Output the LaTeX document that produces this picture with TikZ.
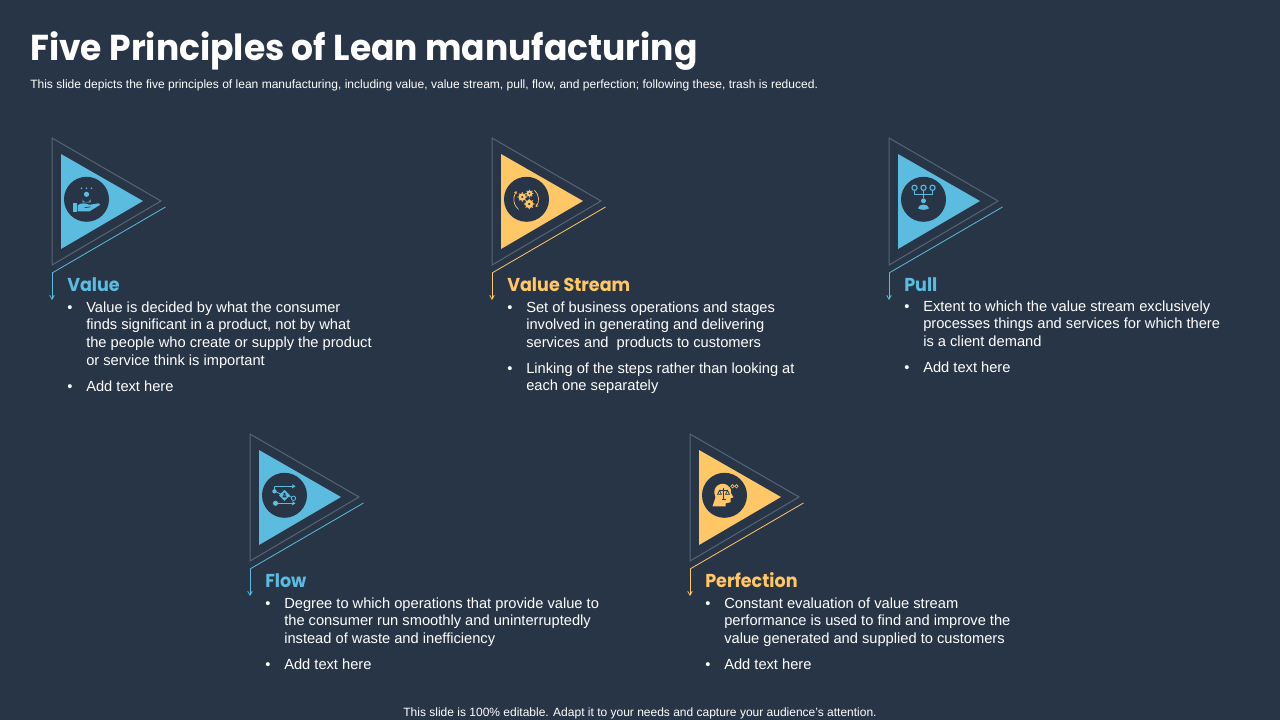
\documentclass[tikz,border=0pt]{standalone}
\usepackage{fontspec}
\usetikzlibrary{arrows.meta}
\setmainfont{Liberation Sans}
\newfontfamily\headfont{Poppins}
\definecolor{bg}{HTML}{283546}
\definecolor{bluec}{HTML}{5BBCE0}
\definecolor{yelc}{HTML}{FFC766}
\definecolor{edgec}{HTML}{566476}
\tikzset{
  bodytext/.style={anchor=north west,inner sep=0pt,align=left,text=white,font=\fontsize{11}{13.2}\selectfont},
  dotmark/.style={anchor=base west,inner sep=0pt,text=white,font=\fontsize{11}{13.2}\selectfont},
  headtext/.style={anchor=base west,inner sep=0pt,font=\headfont\bfseries\fontsize{14}{16}\selectfont},
  outertri/.style={draw=edgec,line width=0.75pt},
  iconcircle/.style={circle,fill=bg,draw=none,minimum size=33.75pt,inner sep=0pt},
}
% #1 name, #2 shift x, #3 shift y, #4 colour, #5 heading, #6 icon
\newcommand{\principle}[6]{%
  \begin{scope}[shift={(#2,#3)}]
    \draw[outertri] (52,138) -- (161,201) -- (52,265) -- cycle;
    \fill[#4] (61,154) -- (143,201) -- (61,249) -- cycle;
    \node[iconcircle] (#1icon) at (86.5,199.3) {};
    \begin{scope}[shift={(86.5,199.3)}]#6\end{scope}
    \coordinate (#1a) at (165.5,207);
    \coordinate (#1b) at (52,273);
    \coordinate (#1c) at (52,300);
    \draw[#4,line width=0.6pt] (#1a) -- (#1b);
    \draw[#4,line width=0.6pt,-{Straight Barb[length=3pt,width=3.5pt]}] (#1b) -- (#1c);
    \node[headtext,text=#4] (#1head) at (67,291) {\scalebox{0.94}[1]{#5}};
  \end{scope}}
% #1 name, #2 bullet x, #3 baseline y, #4 text
\newcommand{\bul}[4]{%
  \node[dotmark] (#1dot) at (#2,#3) {•};
  \node[bodytext] (#1) at ({#2+19},{#3-12.3}) {\strut #4};}
\newcommand{\iconvalue}{%
  \foreach \i in {-5,0,5}{\fill[bluec] (\i,-11) circle (0.9);}
  \fill[bluec] (0,-5) circle (2.6);
  \fill[bluec] (-4,3) -- (-4,0) arc (180:0:4 and 3) -- (4,3) -- cycle;
  \fill[bluec] (-14,4) rectangle (-10,12.7);
  \fill[bluec] (-9,6) .. controls (-5,3) and (-1,4) .. (3,5.5) -- (12,4) -- (13.7,5.5) -- (3,12) -- (-9,12) -- cycle;
  \draw[bg,line width=0.5pt] (-2,8.5) -- (4,7.5);}
\newcommand{\gearicon}[3]{%
  \foreach \a in {0,45,...,315}{\fill[yelc] (#1,#2) ++(\a:#3+0.4) circle (0.7);}
  \fill[yelc] (#1,#2) circle (#3);
  \fill[bg] (#1,#2) circle (#3*0.3);}
\newcommand{\icongears}{%
  \gearicon{-4.3}{-2.3}{3.8}\gearicon{3}{-5.7}{2.9}\gearicon{2.7}{4.7}{4.2}
  \draw[yelc,line width=0.5pt,->,>={Straight Barb[length=1.5pt,width=2pt]}] (8,-9) arc (-48:40:12);
  \draw[yelc,line width=0.5pt,->,>={Straight Barb[length=1.5pt,width=2pt]}] (-8,10) arc (129:220:12.7);}
\newcommand{\iconpull}{%
  \foreach \i in {-9,0,9}{\draw[bluec,line width=0.8pt] (\i,-11.5) circle (2.6);}
  \draw[bluec,line width=0.6pt] (-9,-8.9) -- (-9,-4.5) -- (9,-4.5) -- (9,-8.9) (0,-8.9) -- (0,-1);
  \fill[bluec] (0,1.5) circle (2.5);
  \fill[bluec] (-5.5,9) .. controls (-5,4) and (5,4) .. (5.5,9) .. controls (3,11) and (-3,11) .. (-5.5,9) -- cycle;}
\newcommand{\iconflow}{%
  \tikzset{>={Straight Barb[length=2pt,width=2.5pt]}}
  \draw[bluec,line width=0.6pt,->] (-10,-9) -- (11,-9);
  \draw[bluec,line width=0.6pt,->] (-8,8) -- (11,8);
  \draw[bluec,line width=0.6pt] (-10,-9) -- (-10,-4) -- (-3,-1) (3,1) -- (9,2) -- (9,5);
  \fill[bluec] (-10,-4) circle (2.2);
  \draw[bluec,line width=0.6pt,fill=bg] (9,3) circle (2.2);
  \fill[bluec] (-9,8) circle (2.6);
  \fill[bluec] (0,-5.5) -- (5.5,0) -- (0,5.5) -- (-5.5,0) -- cycle;
  \fill[bg] (0,-1.3) circle (1.3);
  \fill[bg] (-2,2) -- (2,2) -- (1.5,0) -- (-1.5,0) -- cycle;}
\newcommand{\iconperfection}{%
  \fill[yelc] (-12,11) -- (-9,2) .. controls (-14,-10) and (-2,-14) .. (3,-10)
     .. controls (7,-7) and (7,-4) .. (6.5,-2) -- (9,2) -- (6,3) -- (6,7) -- (1,8) -- (1,11) -- cycle;
  \draw[bg,line width=0.6pt] (-1,-7) -- (-1,4) (-5,-5) -- (3,-5) (-3,4.5) -- (1,4.5);
  \draw[bg,line width=0.5pt] (-5,-5) -- (-7,-1) -- (-3,-1) -- cycle (3,-5) -- (1,-1) -- (5,-1) -- cycle;
  \draw[yelc,line width=0.5pt] (8,-9) circle (1.7) (12,-9) circle (1.7);}
\begin{document}
\begin{tikzpicture}[x=0.75pt,y=-0.75pt]
\useasboundingbox (0,0) rectangle (1280,720);
\fill[bg] (0,0) rectangle (1280,720);
\node[anchor=base west,inner sep=0pt,text=white,font=\headfont\bfseries\fontsize{27}{30}\selectfont] (title) at (30,61) {\scalebox{0.959}[1]{Five Principles of Lean manufacturing}};
\node[anchor=base west,inner sep=0pt,text=white,font=\fontsize{9.03}{11}\selectfont] (subtitle) at (30,89) {This slide depicts the five principles of lean manufacturing, including value, value stream, pull, flow, and perfection; following these, trash is reduced.};

\principle{value}{0}{0}{bluec}{Value}{\iconvalue}
\principle{stream}{440}{0}{yelc}{Value Stream}{\icongears}
\principle{pull}{837}{0}{bluec}{Pull}{\iconpull}
\principle{flow}{198}{296}{bluec}{Flow}{\iconflow}
\principle{perf}{638}{296}{yelc}{Perfection}{\iconperfection}

\bul{va}{67}{312}{Value is decided by what the consumer\\finds significant in a product, not by what\\the people who create or supply the product\\or service think is important}
\bul{vb}{67}{391}{Add text here}
\bul{sa}{507}{312}{Set of business operations and stages\\involved in generating and delivering\\services and\ \ products to customers}
\bul{sb}{507}{373}{Linking of the steps rather than looking at\\each one separately}
\bul{pa}{904}{311}{Extent to which the value stream exclusively\\processes things and services for which there\\is a client demand}
\bul{pb}{904}{372}{Add text here}
\bul{fa}{265}{608}{Degree to which operations that provide value to\\the consumer run smoothly and uninterruptedly\\instead of waste and inefficiency}
\bul{fb}{265}{669}{Add text here}
\bul{ea}{705}{608}{Constant evaluation of value stream\\performance is used to find and improve the\\value generated and supplied to customers}
\bul{eb}{705}{669}{Add text here}

\node[anchor=base,inner sep=0pt,text=white,font=\fontsize{9}{11}\selectfont] (foot) at (640,716) {This slide is 100\% editable. Adapt it to your needs and capture your audience's attention.};
\end{tikzpicture}
\end{document}
